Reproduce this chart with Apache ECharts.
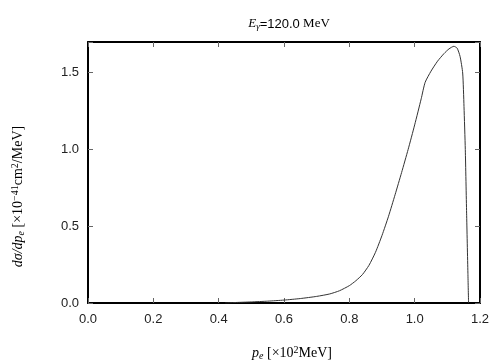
<!DOCTYPE html>
<html>
<head>
<meta charset="utf-8">
<script src="https://cdn.jsdelivr.net/npm/echarts@6/dist/echarts.min.js"></script>
<style>
  html, body { margin: 0; padding: 0; background: #fff; }
  #chart { width: 504px; height: 360px; }
</style>
</head>
<body>
<div id="chart"></div>
<script>
// electron momentum [x10^2 MeV]
const pe = [0.42, 0.45, 0.5, 0.55, 0.6, 0.65, 0.7, 0.74, 0.77, 0.8, 0.82, 0.84, 0.86, 0.88, 0.9, 0.92, 0.94,
  0.96, 0.98, 1.0, 1.02, 1.032, 1.05, 1.07, 1.09, 1.105, 1.12, 1.13, 1.139, 1.147, 1.151, 1.155, 1.159, 1.163, 1.165];
// dsigma/dpe [x10^-41 cm^2/MeV]
const dsig = [0.0, 0.003, 0.007, 0.012, 0.019, 0.029, 0.043, 0.059, 0.08, 0.113, 0.145, 0.185, 0.245, 0.33, 0.44, 0.565, 0.705,
  0.85, 1.0, 1.16, 1.33, 1.437, 1.51, 1.575, 1.625, 1.655, 1.672, 1.66, 1.606, 1.498, 1.28, 1.0, 0.585, 0.194, 0.0];

const xTicks = [0, 0.2, 0.4, 0.6, 0.8, 1.0, 1.2];
const yTicks = [0, 0.5, 1.0, 1.5];

const serif = "Liberation Serif";
const sans = "Liberation Sans";

const chart = echarts.init(document.getElementById("chart"));

const frameLine = { show: true, onZero: false, lineStyle: { color: "#000", width: 2 } };
const innerTick = { show: true, inside: true, length: 5, lineStyle: { color: "#666", width: 1 } };

function richSet(size) {
  const small = Math.round(size * 0.72);
  return {
    it: { fontFamily: serif, fontStyle: "italic", fontWeight: "normal", fontSize: size, color: "#000" },
    sub: { fontFamily: serif, fontStyle: "italic", fontWeight: "normal", fontSize: small, color: "#000", padding: [5, 0, 0, 0] },
    sup: { fontFamily: serif, fontWeight: "normal", fontSize: small, color: "#000", padding: [0, 0, 7, 0] },
    sn: { fontFamily: sans, fontWeight: "normal", fontSize: size, color: "#000" },
    rm: { fontFamily: serif, fontWeight: "normal", fontSize: size, color: "#000" },
  };
}

chart.setOption({
  backgroundColor: "#fff",
  animation: false,
  title: {
    text: "{it|E}{sub|γ}{sn|=120.0}{rm| MeV}",
    left: 284,
    textAlign: "center",
    top: 12,
    textStyle: { fontWeight: "normal", rich: richSet(13) },
  },
  grid: { left: 88, right: 24, top: 42, bottom: 57, containLabel: false, outerBoundsMode: "none" },
  xAxis: [
    {
      type: "value",
      min: 0,
      max: 1.2,
      interval: 0.2,
      position: "bottom",
      axisLine: frameLine,
      axisTick: innerTick,
      splitLine: { show: false },
      axisLabel: {
        margin: 10,
        fontFamily: sans,
        fontSize: 13,
        color: "#222",
        formatter: (v) => (xTicks.some((t) => Math.abs(t - v) < 1e-6) ? v.toFixed(1) : ""),
      },
      name: "{it|p}{sub|e}{rm| [×10}{sup|2}{rm|MeV]}",
      nameLocation: "middle",
      nameGap: 42,
      nameTextStyle: { padding: [0, 0, 0, 16], rich: richSet(14) },
    },
    {
      type: "value",
      min: 0,
      max: 1.2,
      interval: 0.2,
      position: "top",
      axisLine: frameLine,
      axisTick: innerTick,
      axisLabel: { show: false },
      splitLine: { show: false },
    },
  ],
  yAxis: [
    {
      type: "value",
      min: 0,
      max: 1.7,
      interval: 0.5,
      position: "left",
      axisLine: frameLine,
      axisTick: innerTick,
      splitLine: { show: false },
      axisLabel: {
        margin: 9,
        fontFamily: sans,
        fontSize: 13,
        color: "#222",
        formatter: (v) => (yTicks.some((t) => Math.abs(t - v) < 1e-6) ? v.toFixed(1) : ""),
      },
      name: "{it|dσ/dp}{sub|e}{rm| [×10}{sup|−41}{rm|cm}{sup|2}{rm|/MeV]}",
      nameLocation: "middle",
      nameGap: 61,
      nameTextStyle: { padding: [0, 48, 0, 0], rich: richSet(14) },
    },
    {
      type: "value",
      min: 0,
      max: 1.7,
      interval: 0.5,
      position: "right",
      axisLine: frameLine,
      axisTick: innerTick,
      axisLabel: { show: false },
      splitLine: { show: false },
    },
  ],
  series: [
    {
      type: "line",
      xAxisIndex: 0,
      yAxisIndex: 0,
      data: pe.map((x, i) => [x, dsig[i]]),
      showSymbol: false,
      symbol: "none",
      smooth: 0.2,
      lineStyle: { color: "#333", width: 1 },
    },
  ],
});
</script>
</body>
</html>
